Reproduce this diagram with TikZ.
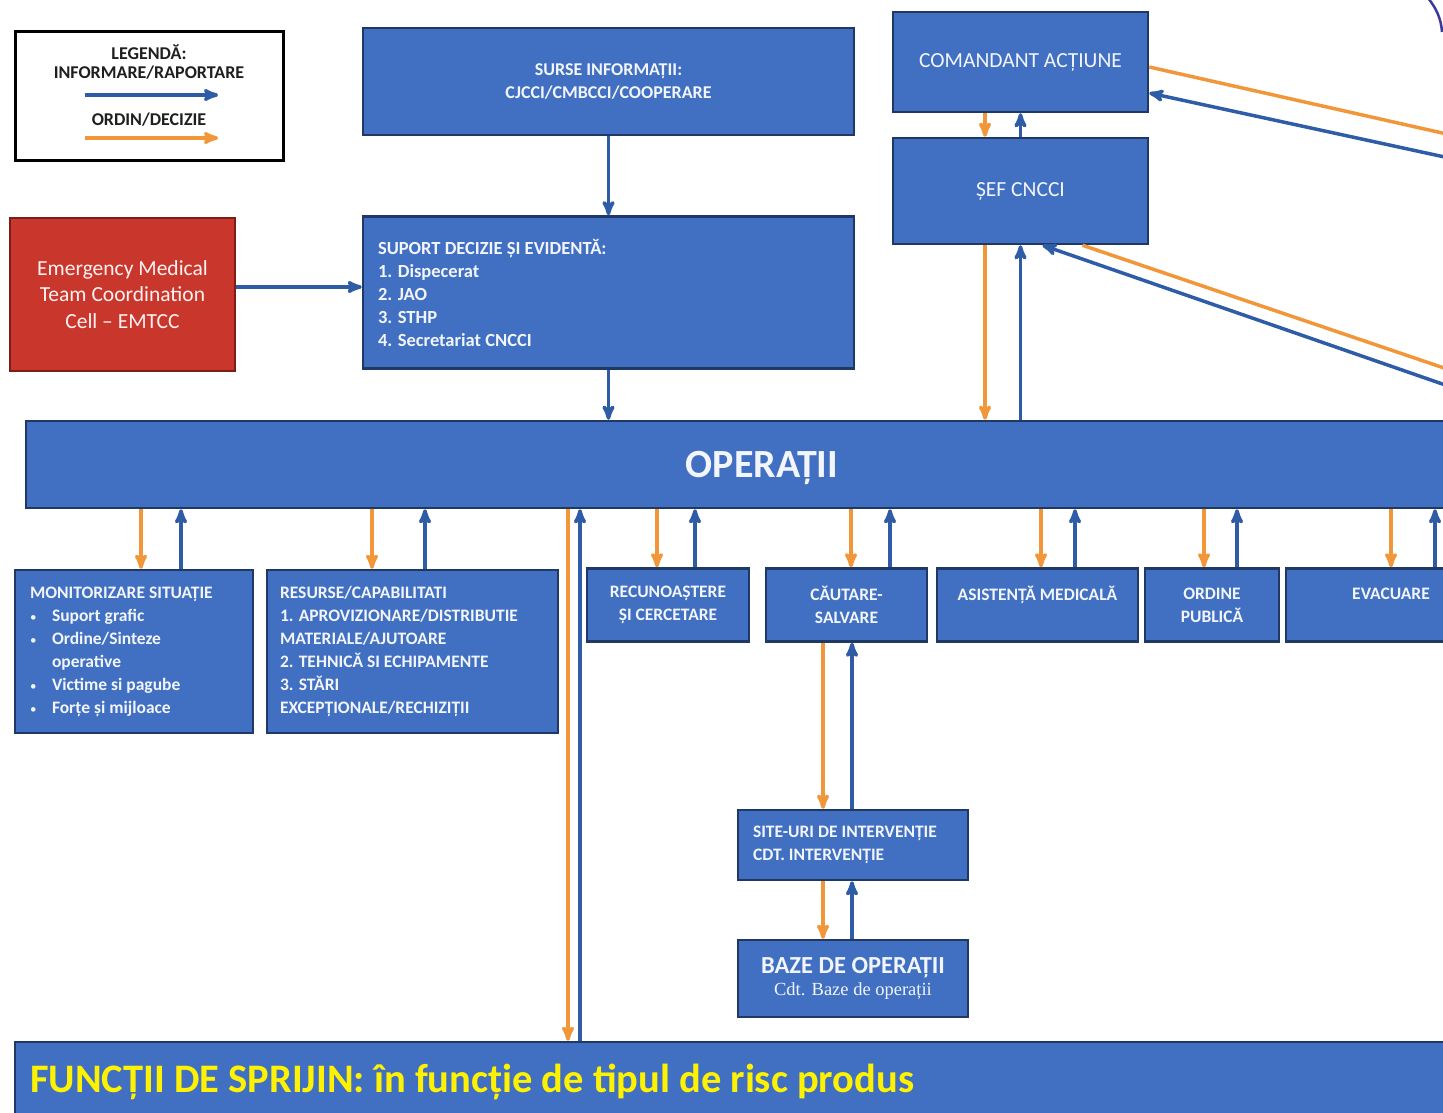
\documentclass[tikz,border=0pt]{standalone}
\usepackage{fontspec}
\setmainfont{Carlito}
\newfontfamily\cdtfont{Liberation Serif}
\usepackage{tikz}
\usetikzlibrary{calc,arrows,positioning,shapes}

\definecolor{boxblue}{HTML}{4170C2}
\definecolor{boxline}{HTML}{1F3864}
\definecolor{infoblue}{HTML}{2E5CA6}
\definecolor{orderorange}{HTML}{F2963A}
\definecolor{emtred}{HTML}{C9372C}
\definecolor{emtline}{HTML}{7A1E17}
\definecolor{boxtext}{HTML}{F2F5FB}
\definecolor{arcviolet}{HTML}{3B3A9C}
\definecolor{sprijin}{HTML}{FFF200}

\newcommand{\itembul}{\makebox[22pt][l]{\normalfont\fontsize{13}{13}\selectfont\textbullet}}

\begin{document}
\begin{tikzpicture}[x=1pt,y=-1pt,
	block/.style={rectangle,draw=boxline,line width=2.5pt,fill=boxblue,text=boxtext,inner sep=0pt},
	caps/.style={font=\bfseries\fontsize{17.5}{23}\selectfont},
	plain/.style={font=\fontsize{21.5}{26.5}\selectfont},
	unit/.style={block,caps,minimum height=73pt,align=center},
	info/.style={->, line width=3.5pt, >=stealth', draw=infoblue},
	order/.style={->, line width=3.5pt, >=stealth', draw=orderorange},
	legendtext/.style={font=\bfseries\fontsize{18}{20}\selectfont,text=black!88}
	]
\useasboundingbox (0,0) rectangle (1443,1113);
\clip (0,0) rectangle (1443,1113);

% legend
\node[rectangle,draw=black,line width=3pt,fill=white,minimum width=268pt,minimum height=129pt] (legend) at (149,96.5) {};
\node[legendtext] (leg1) at (149,52) {LEGENDĂ:};
\node[legendtext] (leg2) at (149,73) {INFORMARE/RAPORTARE};
\node[legendtext] (leg3) at (149,120) {ORDIN/DECIZIE};
\coordinate (lbs) at (85,95);
\coordinate (lbe) at (218,95);
\coordinate (los) at (85,138);
\coordinate (loe) at (218,138);
\draw[info](lbs) to (lbe);
\draw[order](los) to (loe);

% top row
\node[block,caps,font=\bfseries\fontsize{18}{23}\selectfont,align=center,minimum width=491pt,minimum height=107pt] (surse) at (608.5,81.5) {SURSE INFORMAȚII:\\CJCCI/CMBCCI/COOPERARE};
\node[block,caps,font=\bfseries\fontsize{18.5}{23}\selectfont,align=flush left,minimum width=491pt,minimum height=152pt,text width=461pt,inner xsep=15pt] (suport) [below = 79pt of surse] {SUPORT DECIZIE ȘI EVIDENTĂ:\\1. Dispecerat\\2. JAO\\3. STHP\\4. Secretariat CNCCI};
\node[block,plain,minimum width=255pt,minimum height=100pt] (comandant) at (1020.5,62) {COMANDANT ACȚIUNE};
\node[block,plain,minimum width=255pt,minimum height=106pt] (sef) [below = 23.5pt of comandant] {ȘEF CNCCI};
\node[block,plain,align=center,fill=emtred,draw=emtline,text=white!95!red,minimum width=225pt,minimum height=153pt] (emtcc) at (122.5,294.5) {Emergency Medical\\Team Coordination\\Cell -- EMTCC};

\node[block,font=\bfseries\fontsize{40}{42}\selectfont,text depth=0pt,minimum width=1472pt,minimum height=87pt] (operatii) at (762,464.5) {OPERAȚII};

% second row
\node[block,caps,align=flush left,minimum width=238pt,minimum height=163pt,text width=208pt,inner xsep=15pt] (monit) at (134,651.5) {MONITORIZARE SITUAȚIE\\
\itembul Suport grafic\\
\itembul Ordine/Sinteze\\
\makebox[22pt][l]{}operative\\
\itembul Victime si pagube\\
\itembul Forțe și mijloace};
\node[block,caps,align=flush left,minimum width=291pt,minimum height=163pt,text width=265pt,inner xsep=13pt] (resurse) [right = 11.5pt of monit] {RESURSE/CAPABILITATI\\1. APROVIZIONARE/DISTRIBUTIE\\MATERIALE/AJUTOARE\\2. TEHNICĂ SI ECHIPAMENTE\\3. STĂRI\\EXCEPȚIONALE/RECHIZIȚII};

\node[unit,minimum width=162pt] (recun) at (668,605) {RECUNOAȘTERE\\ȘI CERCETARE};
\node[unit,minimum width=161pt] (cautare) [right = 14.5pt of recun] {CĂUTARE-\\SALVARE};
\node[unit,minimum width=201pt] (asist) [right = 7.5pt of cautare] {ASISTENȚĂ MEDICALĂ\\~};
\node[unit,minimum width=134pt] (ordine) [right = 4.5pt of asist] {ORDINE\\PUBLICĂ};
\node[unit,minimum width=210pt] (evac) [right = 4.5pt of ordine] {EVACUARE\\~};

\node[block,caps,align=flush left,minimum width=230pt,minimum height=70pt,text width=200pt,inner xsep=15pt] (site) at (853,845) {SITE-URI DE INTERVENȚIE\\CDT. INTERVENȚIE};
\node[block,align=center,minimum width=230pt,minimum height=77pt] (baze) [below = 57.5pt of site] {{\bfseries\fontsize{24.5}{26}\selectfont BAZE DE OPERAȚII}\\[4pt]{\cdtfont\fontsize{18.5}{20}\selectfont Cdt. Baze de operații}};

\node[block,align=flush left,text=sprijin,font=\bfseries\fontsize{40.5}{44}\selectfont,minimum width=1485pt,minimum height=80pt,text width=1455pt,inner xsep=15pt] (functii) at (757.5,1082) {FUNCȚII DE SPRIJIN: în funcție de tipul de risc produs};

% free ends beyond the right edge
\coordinate (offca) at (1500,146);
\coordinate (offcb) at (1500,169);
\coordinate (offsa) at (1500,387);
\coordinate (offsb) at (1500,404);

\draw[info](surse) to (suport);
\draw[info](suport.south) to (suport.south |- operatii.north);
\draw[info]([yshift=7.5pt]emtcc.east) to ([yshift=7.5pt]emtcc.east -| suport.west);

\draw[order]([xshift=-35.5pt]comandant.south) to ([xshift=-35.5pt]sef.north);
\draw[info](sef.north) to (comandant.south);
\draw[order]([xshift=-35.5pt]sef.south) to ([xshift=-35.5pt]sef.south |- operatii.north);
\draw[info](sef.south |- operatii.north) to (sef.south);

\draw[order]([yshift=-5pt]comandant.east) to (offca);
\draw[info](offcb) to ([yshift=-31pt]comandant.east);
\draw[order]([xshift=62pt]sef.south) to (offsa);
\draw[info](offsb) to ([xshift=22pt]sef.south);

\draw[order]([xshift=7pt]monit.north |- operatii.south) to ([xshift=7pt]monit.north);
\draw[info]([xshift=47pt]monit.north) to ([xshift=47pt]monit.north |- operatii.south);
\draw[order]([xshift=-40.5pt]resurse.north |- operatii.south) to ([xshift=-40.5pt]resurse.north);
\draw[info]([xshift=12.5pt]resurse.north) to ([xshift=12.5pt]resurse.north |- operatii.south);
\draw[order]([xshift=-11pt]recun.north |- operatii.south) to ([xshift=-11pt]recun.north);
\draw[info]([xshift=27pt]recun.north) to ([xshift=27pt]recun.north |- operatii.south);
\draw[order]([xshift=4.5pt]cautare.north |- operatii.south) to ([xshift=4.5pt]cautare.north);
\draw[info]([xshift=43.5pt]cautare.north) to ([xshift=43.5pt]cautare.north |- operatii.south);
\draw[order]([xshift=3.5pt]asist.north |- operatii.south) to ([xshift=3.5pt]asist.north);
\draw[info]([xshift=37.5pt]asist.north) to ([xshift=37.5pt]asist.north |- operatii.south);
\draw[order]([xshift=-8pt]ordine.north |- operatii.south) to ([xshift=-8pt]ordine.north);
\draw[info]([xshift=25pt]ordine.north) to ([xshift=25pt]ordine.north |- operatii.south);
\draw[order](evac.north |- operatii.south) to (evac.north);
\draw[info]([xshift=44pt]evac.north) to ([xshift=44pt]evac.north |- operatii.south);

\draw[order]([xshift=-194pt]operatii.south) to ([xshift=-194pt]operatii.south |- functii.north);
\draw[info]([xshift=-182pt]operatii.south |- functii.north) to ([xshift=-182pt]operatii.south);

\draw[order]([xshift=-30pt]site.north |- cautare.south) to ([xshift=-30pt]site.north);
\draw[info]([xshift=-1pt]site.north) to ([xshift=-1pt]site.north |- cautare.south);
\draw[order]([xshift=-30pt]site.south) to ([xshift=-30pt]baze.north);
\draw[info]([xshift=-1pt]baze.north) to ([xshift=-1pt]site.south);

% corner arc
\draw[arcviolet,line width=2.5pt] (1428,-2) .. controls (1436,8) and (1441,18) .. (1442,32);
\end{tikzpicture}
\end{document}
